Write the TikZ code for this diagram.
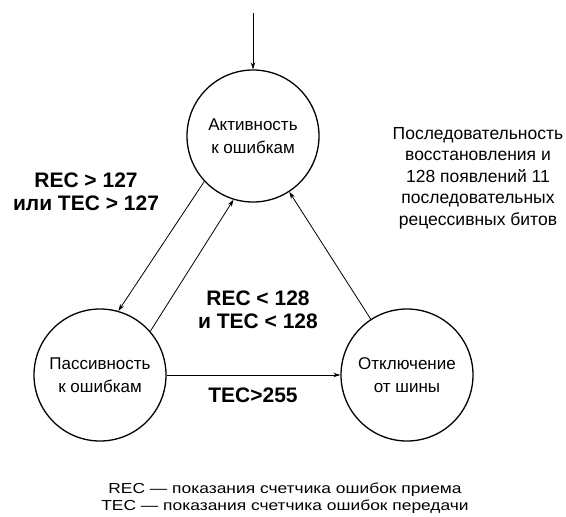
\documentclass[tikz,border=0pt]{standalone}
\usepackage{fontspec}
\setmainfont{Liberation Sans}
\usetikzlibrary{arrows.meta,positioning}

\begin{document}
\begin{tikzpicture}[
  x=1pt, y=-1pt,
  state/.style={circle, draw, line width=1.3pt, minimum size=132pt, inner sep=0pt, align=center, font=\fontsize{17}{23}\selectfont},
  cond/.style={align=center, font=\bfseries\fontsize{21}{23}\selectfont},
  note/.style={align=center, font=\fontsize{17.5}{21.5}\selectfont},
  legendtext/.style={align=center, font=\addfontfeature{FakeStretch=1.2}\fontsize{14.5}{17.5}\selectfont},
  arrow/.style={-{Stealth[length=7pt, width=4.5pt]}, line width=0.8pt}
]
\useasboundingbox (0,0) rectangle (566,517);
\node[state] (active) at (253,136) {Активность\\к ошибкам};
\node[state] (passive) at (100,375) {Пассивность\\к ошибкам};
\node[state] (busoff) at (407,375) {Отключение\\от шины};
\coordinate (entry) at (253,13);

\node[cond] (toPassive) at (86,192) {REC > 127\\или TEC > 127};
\node[cond] (toActive) at (258,310) {REC < 128\\и TEC < 128};
\node[cond] (toBusoff) at (253,395) {TEC>255};
\node[note] (recovery) at (478,178) {Последовательность\\восстановления и\\128 появлений 11\\последовательных\\рецессивных битов};
\node[legendtext] (legend) at (285,498) {REC — показания счетчика ошибок приема\\TEC — показания счетчика ошибок передачи};

\draw[arrow] (entry) -- (active);
\draw[arrow] (active.223) -- (passive.74);
\draw[arrow] (passive.41) -- (active.253);
\draw[arrow] (busoff.123) -- (active.303);
\draw[arrow] (passive) -- (busoff);
\end{tikzpicture}
\end{document}
